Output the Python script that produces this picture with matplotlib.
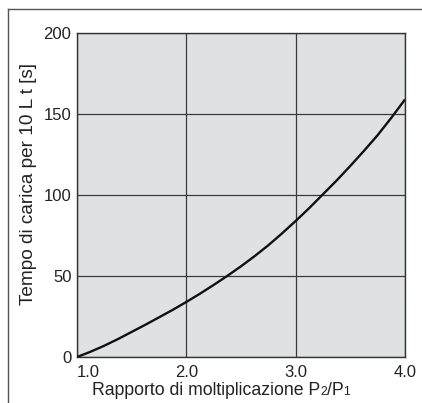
import matplotlib
matplotlib.use("Agg")
import matplotlib.pyplot as plt
from matplotlib.lines import Line2D

plt.rcParams['font.family'] = ['Liberation Sans', 'DejaVu Sans']

# pressure ratio and charging time per 10 L
ratio = [1.0, 1.125, 1.25, 1.375, 1.5, 1.625, 1.75, 1.875, 2.0, 2.125, 2.25, 2.375,
         2.5, 2.625, 2.75, 2.875, 3.0, 3.125, 3.25, 3.375, 3.5, 3.625, 3.75, 3.875, 4.0]
t_charge = [0, 3.3, 7, 11.1, 15.5, 19.9, 24.5, 29.1, 34, 39.1, 44.5, 50.1,
            56, 62.3, 69, 76.3, 84, 92, 100.5, 109, 118, 127.3, 137, 147.7, 159]

x_ticks = [1.0, 2.0, 3.0, 4.0]
x_labels = ['1.0', '2.0', '3.0', '4.0']
y_ticks = [0, 50, 100, 150, 200]

# x label pieces: (text, font size) -> small digits sit on the baseline
xlabel_parts = [('Rapporto di moltiplicazione P', 12.7), ('2', 8.8), ('/P', 12.7), ('1', 8.8)]

fig = plt.figure(figsize=(4.22, 4.03), dpi=100)
ax = fig.add_axes([0.1825, 0.1141, 0.7773, 0.804])
ax.set_facecolor('#e0e1e3')

ax.plot(ratio, t_charge, color='#111111', lw=1.7, solid_capstyle='butt', zorder=3)

ax.set_xlim(1.0, 4.0)
ax.set_ylim(0, 200)
ax.set_xticks(x_ticks)
ax.set_xticklabels(x_labels)
ax.set_yticks(y_ticks)
ax.tick_params(length=0, labelsize=12, colors='#222222')
ax.tick_params(axis='x', pad=6)
ax.tick_params(axis='y', pad=4)
ax.get_xticklabels()[0].set_horizontalalignment('left')
ax.grid(True, color='#3a3a3a', lw=0.9)
ax.set_axisbelow(True)
for s in ax.spines.values():
    s.set_color('#333333')
    s.set_linewidth(1.0)

ax.set_ylabel('Tempo di carica per 10 L t [s]', fontsize=13.7, color='#222222')
ax.yaxis.set_label_coords(-0.122, 0.534)

# build the x label piece by piece
fig.canvas.draw()
renderer = fig.canvas.get_renderer()
x0 = 0.0457
base_y = -0.117
for txt, fs in xlabel_parts:
    t = ax.text(x0, base_y, txt, transform=ax.transAxes, fontsize=fs, color='#222222',
                ha='left', va='baseline')
    bb = t.get_window_extent(renderer=renderer)
    x0 = ax.transAxes.inverted().transform((bb.x1, bb.y0))[0]

# outer frame lines
fig.add_artist(Line2D([8 / 422, 8 / 422], [0, 1 - 9 / 403], transform=fig.transFigure, color='#555555', lw=1.0))
fig.add_artist(Line2D([8 / 422, 1], [1 - 9 / 403, 1 - 9 / 403], transform=fig.transFigure, color='#555555', lw=1.0))

fig.savefig('out.png', dpi=100)
